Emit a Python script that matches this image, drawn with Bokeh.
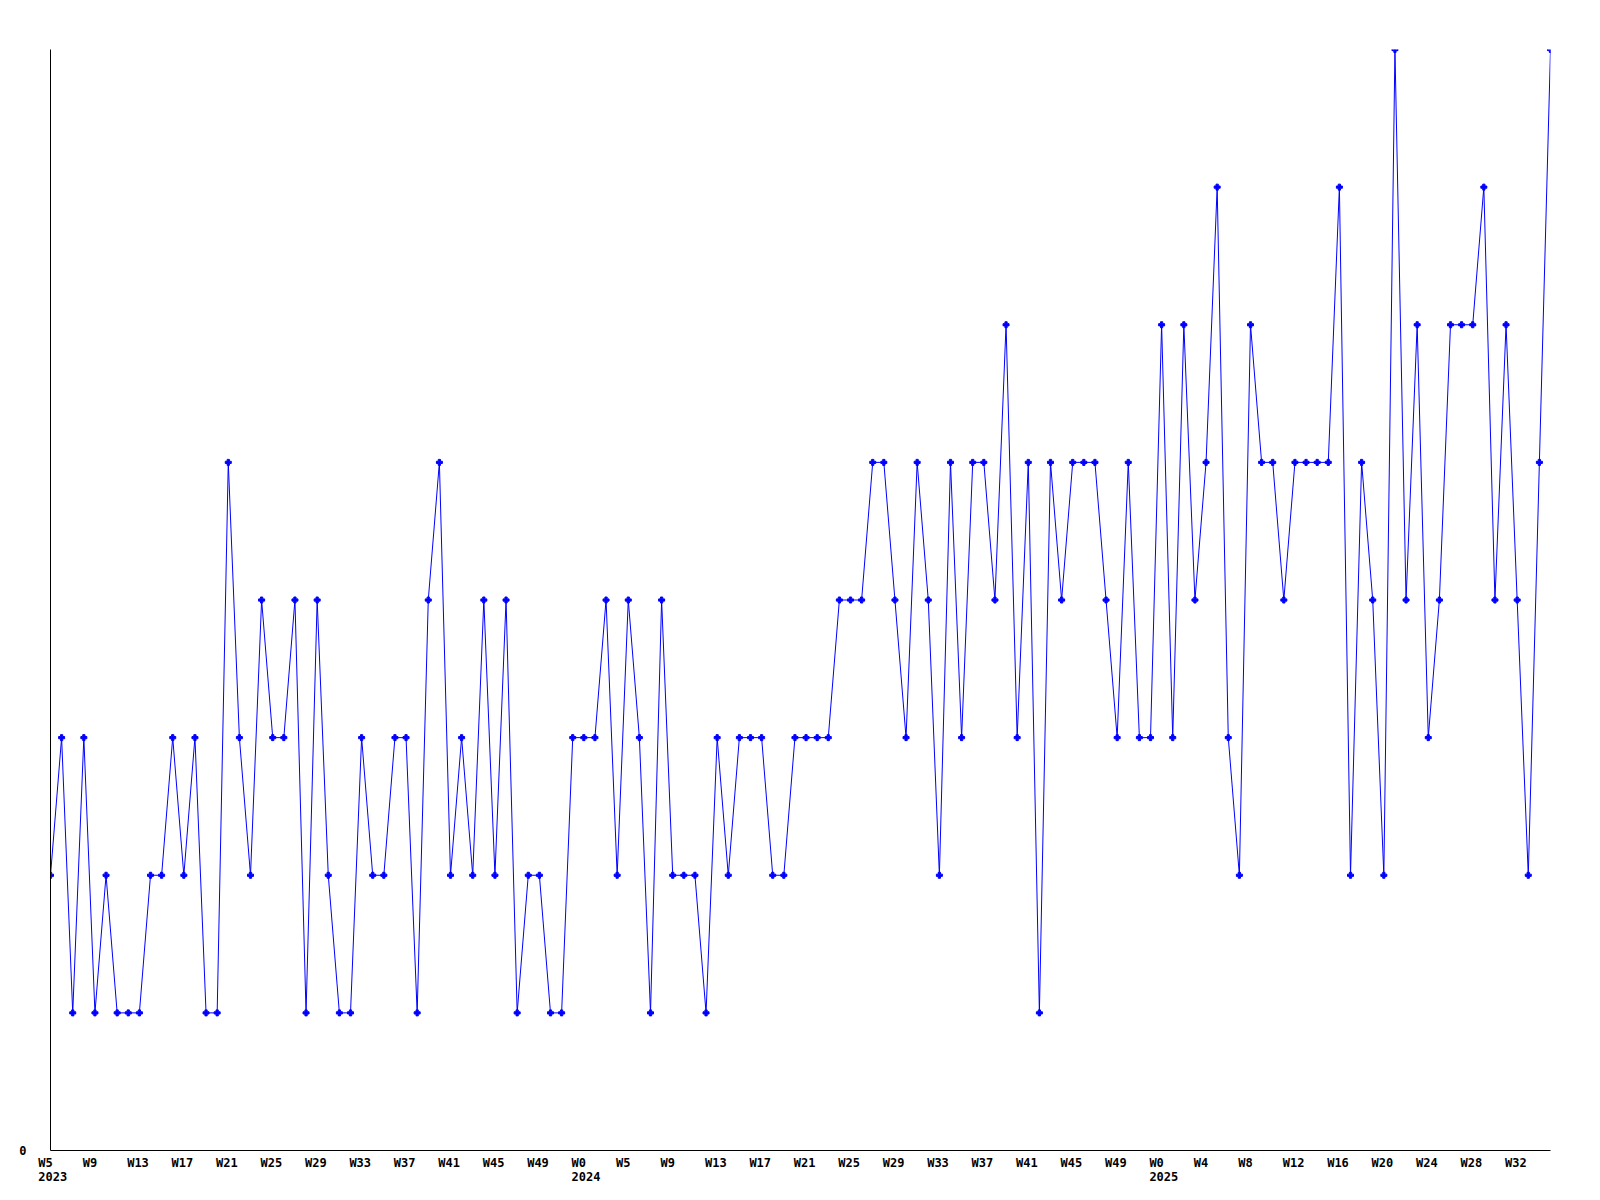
from bokeh.plotting import figure
from bokeh.models import Range1d, FixedTicker
from bokeh.embed import file_html
from bokeh.resources import INLINE

# Weekly values, one point per week (136 weeks, 2023 W5 .. 2025 W34)
values = [
    2, 3, 1, 3, 1, 2, 1, 1, 1, 2, 2, 3, 2, 3, 1, 1, 5, 3, 2, 4,
    3, 3, 4, 1, 4, 2, 1, 1, 3, 2, 2, 3, 3, 1, 4, 5, 2, 3, 2, 4,
    2, 4, 1, 2, 2, 1, 1, 3, 3, 3, 4, 2, 4, 3, 1, 4, 2, 2, 2, 1,
    3, 2, 3, 3, 3, 2, 2, 3, 3, 3, 3, 4, 4, 4, 5, 5, 4, 3, 5, 4,
    2, 5, 3, 5, 5, 4, 6, 3, 5, 1, 5, 4, 5, 5, 5, 4, 3, 5, 3, 3,
    6, 3, 6, 4, 5, 7, 3, 2, 6, 5, 5, 4, 5, 5, 5, 5, 7, 2, 5, 4,
    2, 8, 4, 6, 3, 4, 6, 6, 6, 7, 4, 6, 4, 2, 5, 8,
]
weeks_idx = list(range(len(values)))

# Tick labels every 4 weeks
week_labels = (
    ["W5", "W9", "W13", "W17", "W21", "W25", "W29", "W33", "W37", "W41", "W45", "W49"]
    + ["W0", "W5", "W9", "W13", "W17", "W21", "W25", "W29", "W33", "W37", "W41", "W45", "W49"]
    + ["W0", "W4", "W8", "W12", "W16", "W20", "W24", "W28", "W32"]
)
year_labels = {0: "2023", 12: "2024", 25: "2025"}

FONT = "DejaVu Sans Mono"
NB = "\u00a0"

p = figure(
    frame_width=1500, frame_height=1101,
    min_border_left=50, min_border_top=49, min_border_right=30, min_border_bottom=45,
    x_range=Range1d(0, len(values) - 1), y_range=Range1d(0, 8),
    output_backend="svg", toolbar_location=None,
)
p.outline_line_color = None
p.xgrid.visible = False
p.ygrid.visible = False
p.background_fill_color = "white"
p.border_fill_color = "white"

p.line(weeks_idx, values, line_color="#0000ff", line_width=1)
p.scatter(weeks_idx, values, marker="plus", size=6, color="#0000ff")

# x axis ticks
tick_pos = [i * 4 + 0.2 for i in range(len(week_labels))]
overrides = {}
for k, (pos, lab) in enumerate(zip(tick_pos, week_labels)):
    txt = lab + NB * (4 - len(lab))
    if k in year_labels:
        txt = txt + "\n" + year_labels[k]
    overrides[pos] = txt

xa = p.xaxis[0]
xa.ticker = FixedTicker(ticks=tick_pos, minor_ticks=[])
xa.major_label_overrides = overrides
xa.major_tick_out = 0
xa.major_tick_in = 0
xa.minor_tick_out = 0
xa.minor_tick_in = 0
xa.major_label_standoff = 5
xa.major_label_text_font = FONT
xa.major_label_text_font_style = "bold"
xa.major_label_text_font_size = "12px"
xa.major_label_text_line_height = 1.0
xa.major_label_text_color = "black"
xa.axis_line_color = "black"

ya = p.yaxis[0]
ya.ticker = FixedTicker(ticks=[0], minor_ticks=[])
ya.major_tick_out = 0
ya.major_tick_in = 0
ya.minor_tick_out = 0
ya.minor_tick_in = 0
ya.major_label_standoff = 24
ya.major_label_text_font = FONT
ya.major_label_text_font_style = "bold"
ya.major_label_text_font_size = "12px"
ya.major_label_text_color = "black"
ya.axis_line_color = "black"

open("out.html", "w").write(file_html(p, INLINE))
